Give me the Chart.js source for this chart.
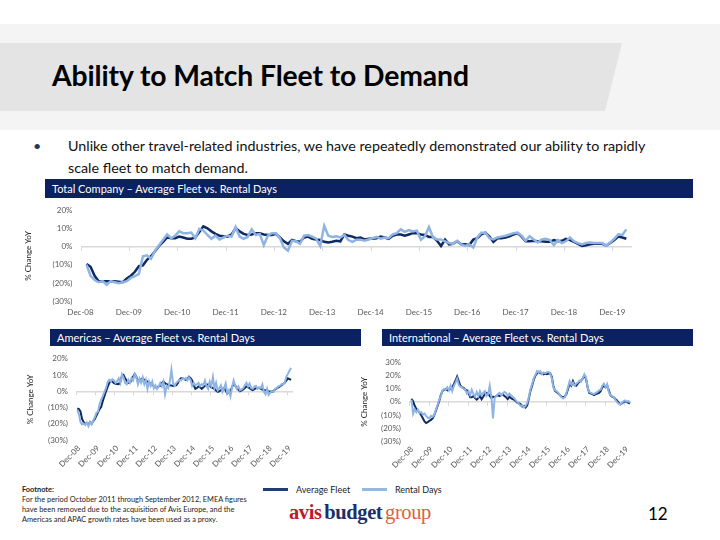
<!DOCTYPE html>
<html lang="en">
<head>
<meta charset="utf-8" />
<title>Ability to Match Fleet to Demand</title>
<script src="https://cdn.jsdelivr.net/npm/chart.js"></script>
<style>
  body {
    margin: 0;
    width: 720px;
    height: 540px;
    position: relative;
    overflow: hidden;
    background: #fff;
    font-family: Lato, "Liberation Sans", sans-serif;
    color: #111;
  }
  .band { position: absolute; left: 0; top: 24px; width: 720px; height: 106px; background: #f4f4f4; }
  .band-dark {
    position: absolute; left: 0; top: 43px; width: 622px; height: 68px; background: #e4e4e4;
    clip-path: polygon(0 0, 622px 0, 605px 100%, 0 100%);
  }
  h1 { position: absolute; left: 52px; top: 57px; margin: 0; font-size: 28.3px; line-height: 36px; font-weight: 700; color: #000; white-space: nowrap; letter-spacing: -0.1px; }
  .bullet { position: absolute; left: 68px; top: 135px; font-size: 14.3px; line-height: 22px; white-space: nowrap; }
  .bullet::before { content: "\2022"; position: absolute; left: -35px; color: #1f3864; }
  .bar { position: absolute; background: #0b2162; color: #fff; font-size: 11px; line-height: 17px; padding-left: 7px; box-sizing: border-box; white-space: nowrap; }
  canvas { position: absolute; }
  .legend { position: absolute; top: 484px; font-size: 9px; color: #222; display: flex; align-items: center; }
  .legend i { display: inline-block; width: 25px; height: 3px; margin-right: 8px; }
  .foot { position: absolute; left: 22px; top: 485px; font-size: 7.4px; line-height: 10px; color: #222; white-space: nowrap; }
  .foot b { display: block; }
  .logo { position: absolute; left: 289px; top: 501px; font-family: "Liberation Serif", serif; font-size: 20.5px; letter-spacing: -0.4px; word-spacing: -2px; white-space: nowrap; }
  .page { position: absolute; left: 648px; top: 503px; font-size: 17px; color: #000; }
</style>
</head>
<body>
<div class="band"></div>
<div class="band-dark"></div>
<h1>Ability to Match Fleet to Demand</h1>
<div class="bullet">Unlike other travel-related industries, we have repeatedly demonstrated our ability to rapidly<br>scale fleet to match demand.</div>

<div class="bar" style="left:45px; top:179px; width:648px; height:19px; line-height:19px;">Total Company – Average Fleet vs. Rental Days</div>
<div class="bar" style="left:50px; top:329px; width:311px; height:17px;">Americas – Average Fleet vs. Rental Days</div>
<div class="bar" style="left:382px; top:329px; width:311px; height:17px;">International – Average Fleet vs. Rental Days</div>

<canvas id="totalChart" style="left:24px; top:198px;" width="618" height="124"></canvas>
<canvas id="amChart" style="left:26px; top:346px;" width="281" height="130"></canvas>
<canvas id="intlChart" style="left:360px; top:350px;" width="280" height="126"></canvas>

<div class="foot"><b>Footnote:</b>For the period October 2011 through September 2012, EMEA figures<br>have been removed due to the acquisition of Avis Europe, and the<br>Americas and APAC growth rates have been used as a proxy.</div>
<div class="legend" style="left:263px;"><i style="background:#1f3f73"></i>Average Fleet</div>
<div class="legend" style="left:362px;"><i style="background:#95b7e3"></i>Rental Days</div>
<div class="logo"><b style="color:#c0182d">avis</b> <b style="color:#1d2f68">budget</b> <span style="color:#e0603f">group</span></div>
<div class="page">12</div>

<script>
  // monthly YoY % change, Dec-08 .. Feb-20
  const tickLabels = ["Dec-08", "Dec-09", "Dec-10", "Dec-11", "Dec-12", "Dec-13",
    "Dec-14", "Dec-15", "Dec-16", "Dec-17", "Dec-18", "Dec-19"];

  const totalFleet = [
    -9.5, -11, -16, -19, -19, -19, -19, -19, -19.3, -19.6,
    -17.5, -16, -13.8, -10.7, -10.2, -7.2, -5.2, -2.4, 0.5, 2.8,
    5.2, 4.8, 4.8, 5.7, 5.2, 4.5, 4.5, 5.2, 8.3, 11.4,
    10.3, 8.6, 7.2, 6.2, 5.9, 5.7, 6.9, 10.3, 8.6, 7.2,
    6.6, 6.9, 7.6, 7.6, 6.9, 6.6, 6.6, 7.2, 5.2, 3.1,
    1.7, 3.8, 3.1, 2.8, 5.2, 5.7, 4.5, 4.1, 3.8, 2.8,
    2.4, 2.8, 3.4, 3.1, 6.9, 6.2, 5.7, 4.8, 5.2, 4.1,
    4.5, 4.5, 4.8, 5.7, 5.2, 4.5, 6.2, 6.9, 6.9, 6.2,
    6.9, 7.6, 7.6, 6.9, 6.6, 5.5, 5.5, 3.4, 0.5, 4,
    1.4, 1.7, 3.1, 1.4, 1.4, 1, 4, 4.8, 6.9, 7.9,
    5.7, 2.8, 4.8, 4.8, 5.2, 5.9, 6.9, 7.6, 5.7, 3.1,
    3.1, 3.4, 3.1, 3.1, 2.8, 2.8, 3.8, 3.1, 3.4, 4.5,
    3.8, 2.8, 1.7, 0.5, 0.9, 1.4, 1.7, 1.7, 1.7, 0.7,
    2.1, 3.8, 5.7, 5.2, 4.5
  ];
  const totalDays = [
    -9.8, -16, -18.4, -19.6, -19, -21, -19, -19.6, -20.2, -19.6,
    -19, -17.2, -16.2, -15, -5.2, -4.7, -6.6, -2.1, 0.9, 4,
    6.9, 4.8, 6.2, 8.6, 7.6, 7.6, 7.9, 4.8, 10, 9.1,
    6.6, 4.5, 6.2, 4.1, 5.2, 6.2, 5.7, 11, 5.7, 4.5,
    5.5, 9.7, 6.6, 7.2, 1, 6.2, 7.6, 7.6, 4.8, -0.3,
    -2.1, 3.4, 3.1, 1.7, 6.2, 6.6, 5.7, 4.5, 0.5, 11.7,
    6.2, 5.5, 5.9, 5.2, 6.6, 3.8, 2.8, 4, 4, 3.4,
    4.1, 4.8, 5.5, 4.5, 5.2, 4.8, 6.9, 7.6, 9.7, 8.3,
    9.3, 8.6, 9, 4, 5.9, 11, 5.2, 4.1, 4.1, 3.1,
    2.1, 1.7, 3.4, 1.4, 0.5, 1.4, -0.3, 5.2, 7.9, 7.9,
    4.8, 4.1, 5.2, 5.7, 6.2, 6.9, 7.6, 7.9, 6.2, 3.4,
    5.9, 4.1, 2.4, 4.1, 4.5, 3.8, 1, 3.8, 2.1, 3.1,
    5.2, 3.1, 2.1, 1.4, 2.1, 2.4, 2.1, 2.1, 2.1, 0.7,
    2.4, 4.5, 6.9, 6.6, 9.7
  ];

  const amFleet = [
    -10.5, -11, -12.4, -17, -19, -20, -20, -20.5, -19, -20,
    -18.5, -17, -15, -13, -11, -9.5, -6, -3, 0, 2.5,
    5, 6.5, 6, 5, 4.6, 4.5, 4.4, 6, 9.3, 10,
    8, 6.5, 5.2, 5.5, 6.7, 9, 10.7, 9, 6, 7,
    7.4, 8, 7, 6.5, 6, 5.5, 4.8, 4, 3.3, 2.5,
    2.4, 3, 3.3, 5, 6, 5, 4.3, 4, 3.7, 3.5,
    3.3, 3.5, 3.7, 5, 7, 8, 8, 7.5, 7, 7.5,
    8.9, 8, 6.7, 4, 1.5, 2, 3, 2.5, 1.5, 2.5,
    3.3, 4, 4.3, 3.5, 2.4, 2, 1.5, 0.5, -0.4, 0,
    0.6, 1.5, 1.9, 0.5, -1.3, -0.5, 0, 2.5, 4.8, 3.5,
    1.9, 1, 0, 0.5, 1.1, 2, 3, 2.5, 1.9, 1.2,
    0.7, 1.3, 1.9, 2, 2.2, 1.5, 1.1, 0.8, 0.6, 0.3,
    0, -0.2, -0.4, 0.3, 1.1, 1.8, 2.4, 3, 3.7, 4.5,
    5.2, 6.5, 8, 7.5, 7
  ];
  const amDays = [
    -11.5, -14, -19, -20.4, -19.8, -20.7, -19.3, -21.5, -19, -20.4,
    -18, -16, -13.3, -12.4, -7.8, -5, -3, -0.4, 1.9, 5.6,
    7, 6, 7.4, 6.7, 5.2, 6.3, 8, 5.2, 10.4, 8.5,
    5.2, 4.3, 7, 5.2, 8.2, 6.7, 10.7, 8.9, 4.4, 7.8,
    5.2, 8.5, 4.3, 7, 1.5, 6, 3.3, 6, 1.9, 3.7,
    1.5, 3, 5.2, 3, 6, -1.9, 3.3, 1.9, 6, 13.3,
    5.2, 3.3, 5.2, 6, 7, 6.7, 8, 7.4, 8.2, 6.7,
    8.5, 7, 3.3, 5.2, 3.7, 4.3, 5.2, 3.3, 4.4, 3.7,
    6.7, 3, 1.5, 6, 3.3, 8.9, 1.9, 5.2, 0.6, 1.9,
    3.7, -0.4, 1.9, 4.8, -1.3, 0.6, -3.1, 2.4, 6.7, 3.3,
    1.5, 3, 0.6, 1.1, 1.9, 3.7, 5.2, 3, 4.8, 1.9,
    1.5, 3, 3.3, 1.5, 2.4, 1.9, 4.3, -0.4, -1.9, 1.5,
    -2.2, -0.7, 0, -0.4, 1.5, 1.9, 3, 3.3, 4.3, 4.4,
    5.2, 8.9, 10.7, 12.6, 14.4
  ];

  const intlFleet = [
    2.4, 0.5, -3, -5.5, -6.7, -8.3, -10.2, -12.6, -15, -16.2,
    -15.5, -14.5, -13.8, -12.6, -10.2, -6.7, -3, 0.5, 5.2, 8.3,
    9.3, 10, 8.8, 9.3, 10, 11.2, 13.6, 16.4, 19.5, 16,
    12.4, 11.2, 10.7, 9.3, 8.8, 6.9, 3.6, 3.6, 4.5, 2.9,
    1.7, 2.9, 4.5, 2.1, 4, 6, 6.9, 6.4, 4.5, 2.9,
    4, 3.6, 4.5, 5.2, 4.5, 5.2, 6, 4.5, 3.6, 2.1,
    4, 2.9, 2.1, 1.7, 0.5, -0.7, -1.2, -1.9, -3.6, -3.1,
    -4.3, -2.6, 2.9, 8.8, 12.4, 17.1, 20.2, 21.9, 23.1, 21.9,
    21.9, 21.2, 21.9, 21.2, 21.7, 22.1, 19.5, 12.4, 8.3, 7.6,
    6.4, 5.2, 4, 3.6, 4, 6, 10, 14, 12.4, 16,
    13.1, 12.4, 14, 15.5, 16.4, 17.9, 20.2, 17.9, 11.2, 6.9,
    6.4, 6, 5.2, 6, 6.4, 6.9, 8.3, 11.2, 12.4, 11.2,
    12.4, 8.8, 5.2, 4, 3.6, 2.1, 1.2, -0.7, -1.9, -1.2,
    -0.2, 0.5, -0.2, -0.7, -1.2
  ];
  const intlDays = [
    1.7, -9, -5.5, -7.9, -6, -8.3, -7.9, -9.8, -9, -10.7,
    -12.1, -12.6, -10.7, -11.4, -9.8, -6, -2.6, 1.7, 4.5, 8.8,
    10, 9.3, 11.2, 8.8, 12.4, 8.3, 12.1, 14.8, 17.9, 13.1,
    11.7, 11.2, 10, 9.3, 6.4, 8.3, 5.2, 9.3, 6, 4,
    7.6, 4.5, 8.3, 5.2, 6.9, 8.3, 4.5, 6, 12.4, 4,
    -12.6, 3, 4.5, 6, 6.9, 5.2, 6.4, 7.6, 6.9, 4.5,
    6.4, 5.2, 4, 2.9, 1.2, -0.2, -1.9, -3.1, -2.6, -4.3,
    -3.1, -0.7, 4, 10, 13.6, 18.3, 20.7, 23.6, 22.6, 23.6,
    21.2, 22.6, 21.9, 22.6, 23.1, 21.9, 18.3, 11.2, 8.8, 8.3,
    6.9, 5.2, 3.6, 2.6, 3.6, 6.9, 11.2, 16, 13.1, 14.8,
    12.4, 14, 14.8, 16.4, 15.5, 18.3, 21.2, 18.8, 11.2, 7.6,
    6.9, 6.4, 6, 6.9, 7.6, 8.8, 9.3, 12.4, 14, 11.2,
    13.6, 7.6, 5.2, 4.5, 3.6, 1.7, -0.2, -1.2, -2.1, -0.7,
    0.5, 1.2, 0.2, 0.7, -0.7
  ];

  const DARK = "#0e2a63";
  const LIGHT = "#8fb4e3";
  const AXIS_GREY = "#595959";
  Chart.defaults.font.family = "Lato, 'Liberation Sans', sans-serif";
  Chart.defaults.animation = false;

  // short tick marks hanging from the zero line at each Dec position
  const zeroTicks = {
    id: "zeroTicks",
    beforeDatasetsDraw(chart) {
      const { ctx, scales } = chart;
      const y0 = scales.y.getPixelForValue(0);
      ctx.save();
      ctx.strokeStyle = "#d9d9d9";
      ctx.lineWidth = 1;
      scales.x.ticks.forEach((t) => {
        const x = Math.round(scales.x.getPixelForValue(t.value)) + 0.5;
        ctx.beginPath();
        ctx.moveTo(x, y0);
        ctx.lineTo(x, y0 + 4);
        ctx.stroke();
      });
      ctx.restore();
    },
  };

  // 45 degree date labels, text ending at the tick (Excel style)
  const slantLabels = {
    id: "slantLabels",
    afterDraw(chart, args, opts) {
      if (!opts.on) return;
      const { ctx, scales, chartArea } = chart;
      ctx.save();
      ctx.fillStyle = AXIS_GREY;
      ctx.font = "8px Lato, 'Liberation Sans', sans-serif";
      ctx.textAlign = "right";
      ctx.textBaseline = "middle";
      scales.x.ticks.forEach((t, i) => {
        const x = scales.x.getPixelForValue(t.value) + opts.dx;
        ctx.save();
        ctx.translate(x, chartArea.bottom + opts.dy);
        ctx.rotate(-Math.PI / 4);
        ctx.fillText(tickLabels[i], 0, 0);
        ctx.restore();
      });
      ctx.restore();
    },
  };

  function pct(v) {
    return v < 0 ? "(" + -v + "%)" : v + "%";
  }

  function makeChart(id, fleet, days, o) {
    return new Chart(document.getElementById(id), {
      type: "line",
      data: {
        datasets: [
          {
            label: "Average Fleet",
            data: fleet.map((v, i) => ({ x: i, y: v })),
            borderColor: DARK,
            borderWidth: o.lw,
            pointRadius: 0,
            tension: 0,
            order: 1,
          },
          {
            label: "Rental Days",
            data: days.map((v, i) => ({ x: i, y: v })),
            borderColor: LIGHT,
            borderWidth: o.lw,
            pointRadius: 0,
            tension: 0,
            order: 0,
          },
        ],
      },
      options: {
        responsive: false,
        layout: { padding: { top: o.top, right: o.right, left: 0, bottom: 0 } },
        plugins: {
          legend: { display: false },
          tooltip: { enabled: false },
          slantLabels: { on: o.slant, dx: 3, dy: 7 },
        },
        scales: {
          x: {
            type: "linear",
            min: o.xMin,
            max: o.xMax,
            grid: { display: false, drawTicks: false },
            border: { display: false },
            afterBuildTicks: (s) => {
              s.ticks = tickLabels.map((l, k) => ({ value: k * 12 + o.off }));
            },
            afterFit: (s) => { s.height = o.xh; },
            ticks: {
              display: !o.slant,
              autoSkip: false,
              maxRotation: 0,
              padding: 7,
              color: AXIS_GREY,
              font: { size: 8 },
              callback: (v, i) => tickLabels[i],
            },
          },
          y: {
            min: o.yMin,
            max: o.yMax,
            afterFit: (s) => { s.width = o.yw; },
            border: { display: false },
            grid: {
              drawTicks: false,
              color: (c) => (c.tick && c.tick.value === 0 ? "#d9d9d9" : "rgba(0,0,0,0)"),
              lineWidth: 1.5,
            },
            title: { display: true, text: "% Change YoY", color: "#262626", font: { size: 8 }, padding: 0 },
            ticks: { stepSize: 10, padding: 8, color: AXIS_GREY, font: { size: 8 }, callback: pct },
          },
        },
      },
      plugins: [zeroTicks, slantLabels],
    });
  }

  makeChart("totalChart", totalFleet, totalDays, {
    lw: 2.5, top: 8, right: 10, xMin: -1.5, xMax: 135.4, off: -1.5,
    xh: 21, slant: false, yw: 56.5, yMin: -30, yMax: 20,
  });
  makeChart("amChart", amFleet, amDays, {
    lw: 2, top: 6, right: 14, xMin: -0.8, xMax: 135.2, off: -0.8,
    xh: 36, slant: true, yw: 50, yMin: -30, yMax: 20,
  });
  makeChart("intlChart", intlFleet, intlDays, {
    lw: 2, top: 7, right: 9, xMin: -1.5, xMax: 134.6, off: -1.5,
    xh: 35, slant: true, yw: 49, yMin: -30, yMax: 30,
  });
</script>
</body>
</html>
